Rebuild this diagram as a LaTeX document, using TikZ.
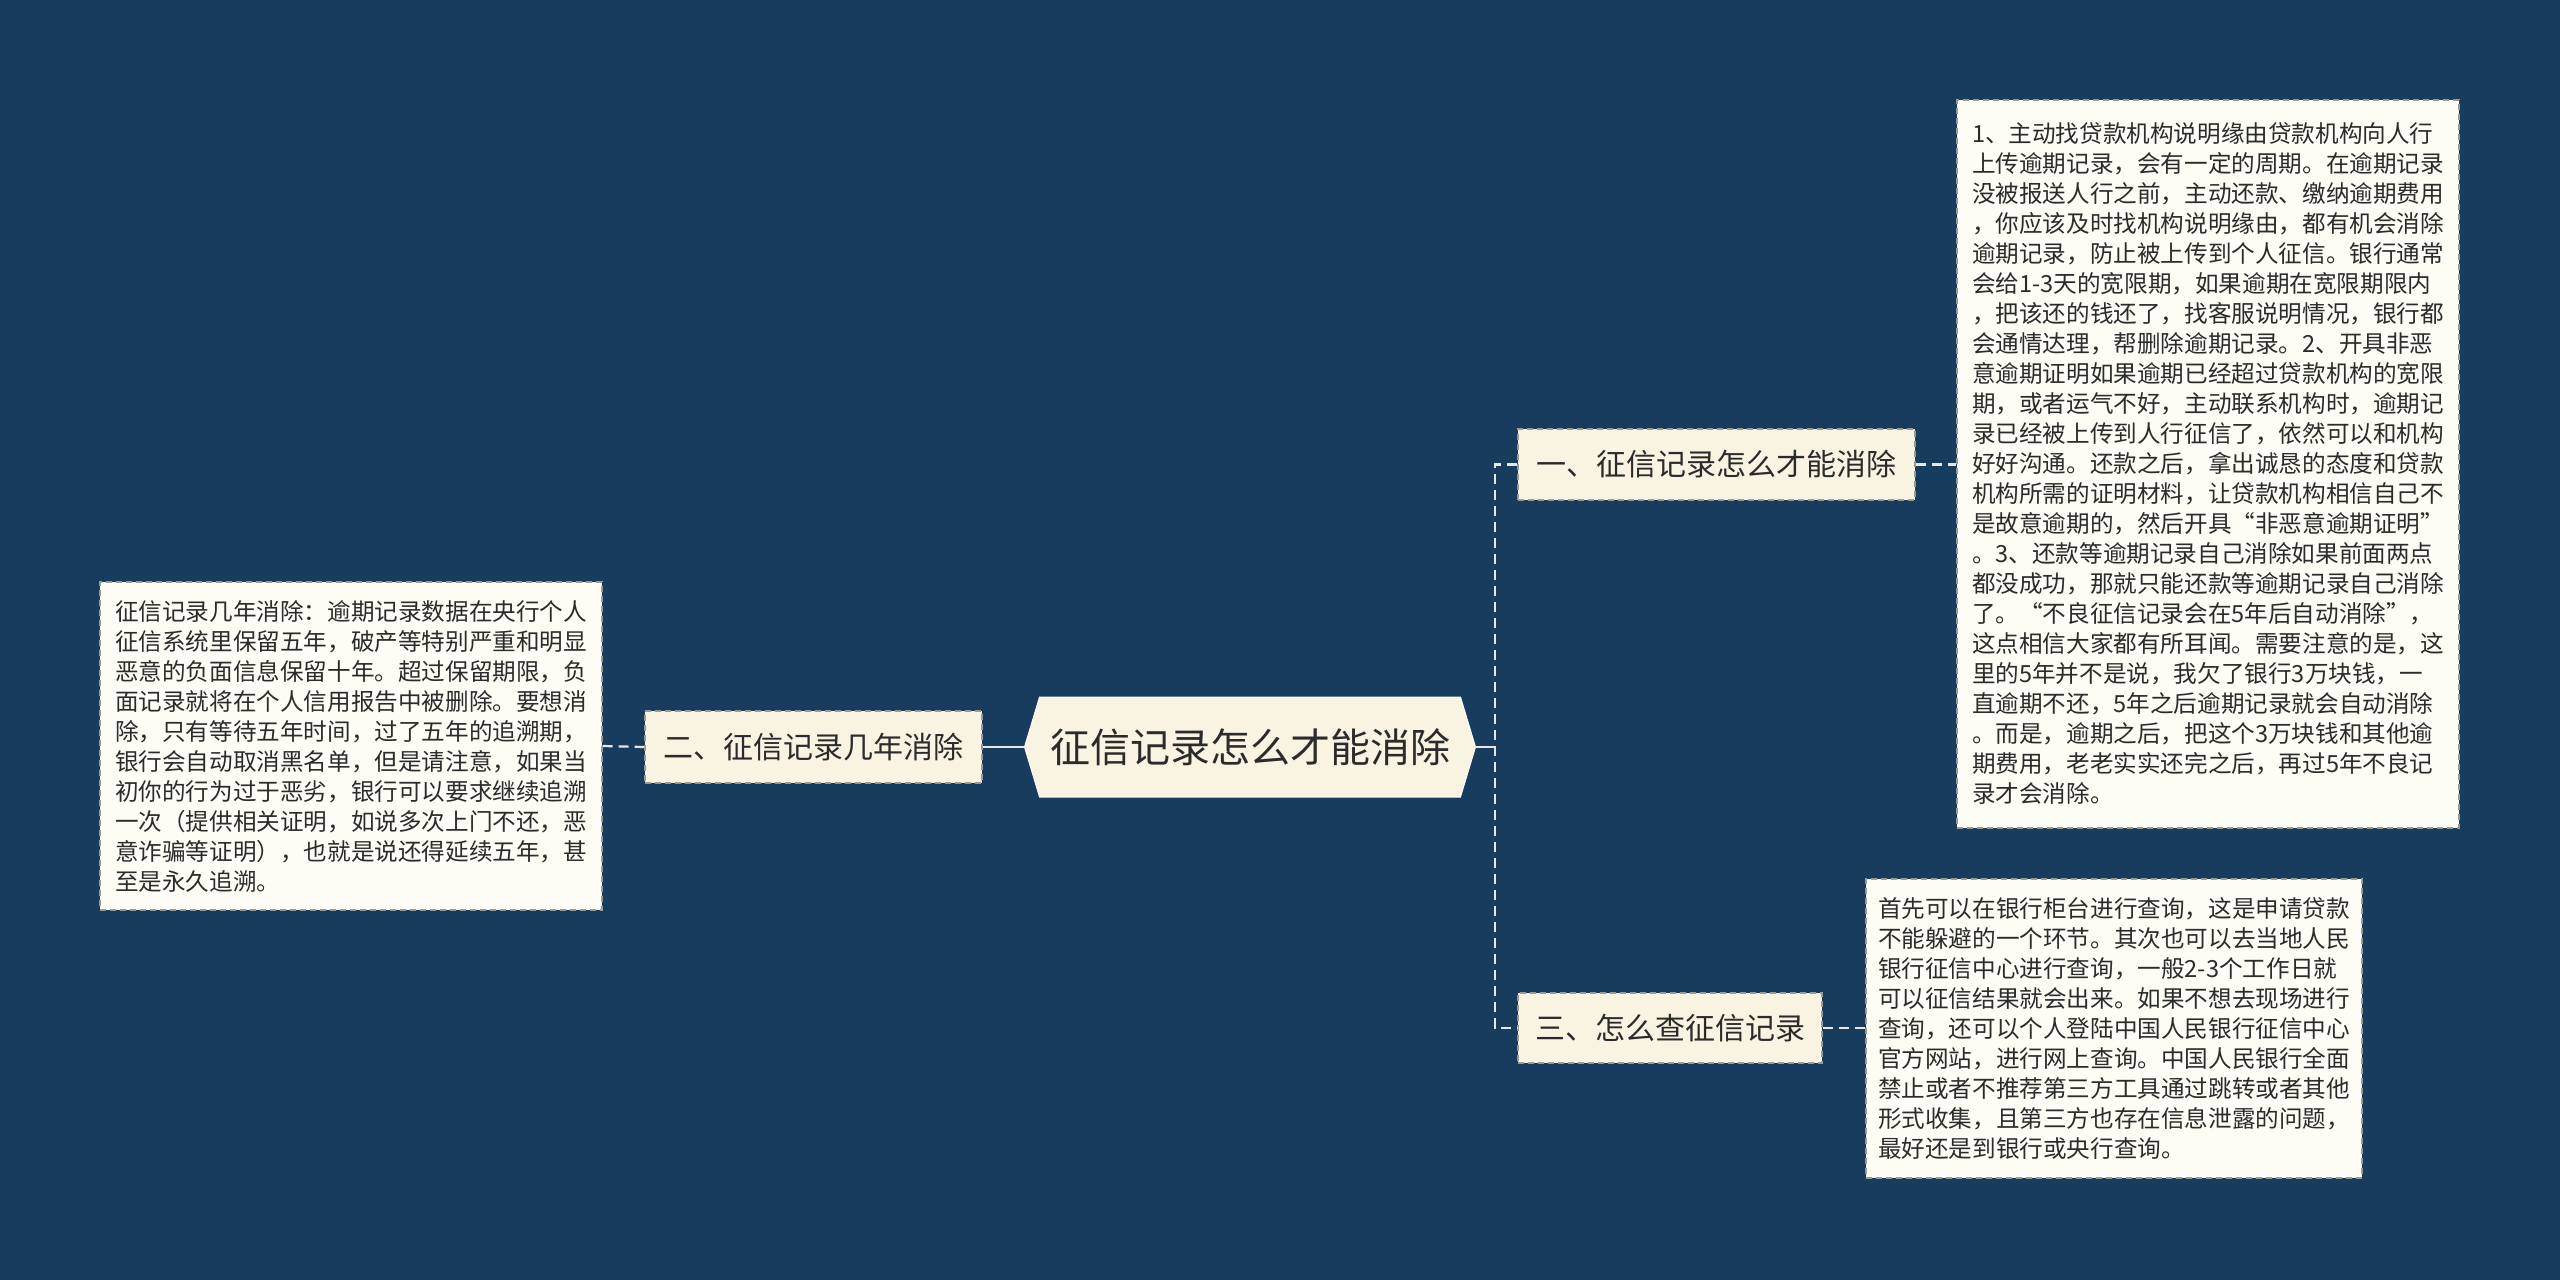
\documentclass[tikz,border=0pt]{standalone}
\usepackage{fontspec}
\setmainfont{Noto Sans CJK SC}
\definecolor{bgblue}{HTML}{183C5E}
\definecolor{nodefill}{HTML}{F9F3E1}
\definecolor{boxfill}{HTML}{FDFCF5}
\definecolor{bordc}{HTML}{9A9A94}
\definecolor{linec}{HTML}{E6E6E6}
\definecolor{textc}{HTML}{2B2B2B}
\pgfdeclarelayer{bglayer}
\pgfdeclarelayer{midlayer}
\pgfsetlayers{bglayer,midlayer,main}
\tikzset{
  conn/.style={draw=linec, line width=1.1pt},
  dconn/.style={conn, dash pattern=on 5pt off 3pt},
  branch/.style={fill=nodefill, draw=bordc, line width=0.6pt, dash pattern=on 3pt off 2pt,
    text=textc, inner sep=0pt, font=\fontsize{15}{18}\selectfont},
  textbox/.style={fill=boxfill, draw=bordc, line width=0.6pt, dash pattern=on 3pt off 2pt,
    text=textc, inner sep=0pt, align=left, font=\fontsize{11.8}{15}\selectfont},
  rootbox/.style={text=textc, inner sep=0pt, font=\fontsize{20}{24}\selectfont},
}
\begin{document}
\begin{tikzpicture}[x=0.5pt,y=-0.5pt]
\begin{pgfonlayer}{bglayer}
\fill[bgblue] (0,0) rectangle (2560,1280);
\end{pgfonlayer}
\useasboundingbox (0,0) rectangle (2560,1280);

% root
\node[rootbox, minimum width=225pt, minimum height=49.5pt] (root) at (1250,747) {征信记录怎么才能消除};
\begin{pgfonlayer}{midlayer}
\filldraw[fill=nodefill, draw=white!70!nodefill, line width=0.6pt]
  (root.west) -- ([xshift=7.5pt]root.north west) -- ([xshift=-7.5pt]root.north east)
  -- (root.east) -- ([xshift=-7.5pt]root.south east) -- ([xshift=7.5pt]root.south west) -- cycle;
\end{pgfonlayer}

% branches
\node[branch, minimum width=168.5pt, minimum height=36pt] (n2) at (813.5,747) {二、征信记录几年消除};
\node[branch, minimum width=198.5pt, minimum height=35.5pt] (n1) at (1716.5,464.5) {一、征信记录怎么才能消除};
\node[branch, minimum width=152pt, minimum height=35pt] (n3) at (1670,1028) {三、怎么查征信记录};

% text boxes
\node[textbox, minimum width=251pt, minimum height=164pt] (lb) at (351,746) {征信记录几年消除：逾期记录数据在央行个人\\
征信系统里保留五年，破产等特别严重和明显\\
恶意的负面信息保留十年。超过保留期限，负\\
面记录就将在个人信用报告中被删除。要想消\\
除，只有等待五年时间，过了五年的追溯期，\\
银行会自动取消黑名单，但是请注意，如果当\\
初你的行为过于恶劣，银行可以要求继续追溯\\
一次（提供相关证明，如说多次上门不还，恶\\
意诈骗等证明），也就是说还得延续五年，甚\\
至是永久追溯。};

\node[textbox, minimum width=251pt, minimum height=364pt] (b1) at (2208,464) {1、主动找贷款机构说明缘由贷款机构向人行\\
上传逾期记录，会有一定的周期。在逾期记录\\
没被报送人行之前，主动还款、缴纳逾期费用\\
，你应该及时找机构说明缘由，都有机会消除\\
逾期记录，防止被上传到个人征信。银行通常\\
会给1-3天的宽限期，如果逾期在宽限期限内\\
，把该还的钱还了，找客服说明情况，银行都\\
会通情达理，帮删除逾期记录。2、开具非恶\\
意逾期证明如果逾期已经超过贷款机构的宽限\\
期，或者运气不好，主动联系机构时，逾期记\\
录已经被上传到人行征信了，依然可以和机构\\
好好沟通。还款之后，拿出诚恳的态度和贷款\\
机构所需的证明材料，让贷款机构相信自己不\\
是故意逾期的，然后开具“非恶意逾期证明”\\
。3、还款等逾期记录自己消除如果前面两点\\
都没成功，那就只能还款等逾期记录自己消除\\
了。“不良征信记录会在5年后自动消除”，\\
这点相信大家都有所耳闻。需要注意的是，这\\
里的5年并不是说，我欠了银行3万块钱，一\\
直逾期不还，5年之后逾期记录就会自动消除\\
。而是，逾期之后，把这个3万块钱和其他逾\\
期费用，老老实实还完之后，再过5年不良记\\
录才会消除。};

\node[textbox, minimum width=248pt, minimum height=149.5pt] (b2) at (2114,1028.5) {首先可以在银行柜台进行查询，这是申请贷款\\
不能躲避的一个环节。其次也可以去当地人民\\
银行征信中心进行查询，一般2-3个工作日就\\
可以征信结果就会出来。如果不想去现场进行\\
查询，还可以个人登陆中国人民银行征信中心\\
官方网站，进行网上查询。中国人民银行全面\\
禁止或者不推荐第三方工具通过跳转或者其他\\
形式收集，且第三方也存在信息泄露的问题，\\
最好还是到银行或央行查询。};

% connectors
\coordinate (jr) at (1495,747);
\coordinate (ja) at (1495,464.5);
\coordinate (jb) at (1495,1028);
\draw[conn] (root.east) -- (jr);
\draw[dconn] (n1.west) -- (ja) -- (jb) -- (n3.west);
\draw[conn] (n2.east) -- (root.west);
\draw[dconn] (lb.east) -- (n2.west);
\draw[dconn] (n1.east) -- (b1.west |- n1.east);
\draw[dconn] (n3.east) -- (b2.west |- n3.east);
\end{tikzpicture}
\end{document}
